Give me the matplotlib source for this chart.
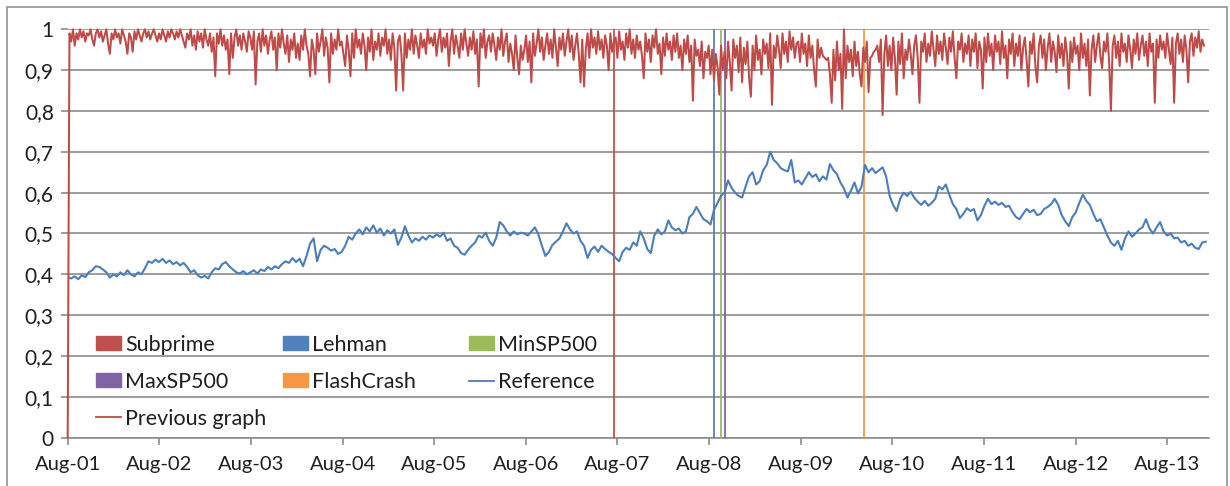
import matplotlib
matplotlib.use('Agg')
import matplotlib.pyplot as plt
import matplotlib.dates as mdates
from matplotlib.patches import Patch, Rectangle
from matplotlib.lines import Line2D
from matplotlib.ticker import FuncFormatter, MultipleLocator
import pandas as pd

plt.rcParams['font.family'] = ['Lato', 'DejaVu Sans']

# ---------------- data ----------------
# "Reference" series, sampled every 14 days from 1 Aug 2001
reference_start = '2001-08-01'
reference_step = '14D'
reference = [
    # Aug01-Aug02
    0.392, 0.390, 0.395, 0.388, 0.398, 0.393, 0.405, 0.410, 0.420, 0.418, 0.412, 0.405, 0.392,
    0.400, 0.395, 0.405, 0.398, 0.410, 0.400, 0.395, 0.405, 0.400, 0.415, 0.432, 0.428, 0.436,
    # Aug02-Aug03
    0.430, 0.438, 0.428, 0.434, 0.425, 0.430, 0.422, 0.428, 0.418, 0.405, 0.410, 0.398, 0.392,
    0.396, 0.390, 0.405, 0.415, 0.412, 0.425, 0.430, 0.420, 0.412, 0.405, 0.402, 0.408, 0.400,
    # Aug03-Aug04
    0.405, 0.410, 0.402, 0.412, 0.408, 0.418, 0.412, 0.420, 0.415, 0.425, 0.432, 0.428, 0.440,
    0.430, 0.438, 0.420, 0.445, 0.475, 0.488, 0.432, 0.460, 0.470, 0.465, 0.458, 0.462, 0.450,
    # Aug04-Aug05
    0.455, 0.470, 0.492, 0.485, 0.500, 0.510, 0.498, 0.515, 0.505, 0.520, 0.502, 0.512, 0.495,
    0.508, 0.500, 0.510, 0.472, 0.490, 0.518, 0.495, 0.478, 0.488, 0.482, 0.492, 0.485, 0.495,
    # Aug05-Aug06
    0.490, 0.498, 0.492, 0.502, 0.482, 0.488, 0.470, 0.465, 0.452, 0.448, 0.460, 0.470, 0.478,
    0.495, 0.490, 0.502, 0.482, 0.470, 0.490, 0.528, 0.520, 0.505, 0.495, 0.505, 0.498, 0.502,
    # Aug06-Aug07
    0.500, 0.495, 0.505, 0.515, 0.498, 0.470, 0.445, 0.455, 0.472, 0.480, 0.488, 0.505, 0.525,
    0.510, 0.500, 0.505, 0.482, 0.470, 0.440, 0.460, 0.468, 0.455, 0.470, 0.462, 0.455, 0.450,
    # Aug07-Aug08
    0.440, 0.432, 0.455, 0.465, 0.460, 0.478, 0.470, 0.505, 0.488, 0.462, 0.452, 0.495, 0.510,
    0.498, 0.505, 0.532, 0.515, 0.508, 0.512, 0.500, 0.505, 0.540, 0.548, 0.565, 0.550, 0.535,
    # Aug08-Aug09
    0.530, 0.522, 0.558, 0.575, 0.592, 0.600, 0.630, 0.612, 0.600, 0.592, 0.588, 0.615, 0.640,
    0.650, 0.620, 0.628, 0.655, 0.668, 0.700, 0.680, 0.672, 0.660, 0.655, 0.652, 0.680, 0.625,
    # Aug09-Aug10
    0.630, 0.620, 0.635, 0.650, 0.638, 0.645, 0.628, 0.640, 0.632, 0.670, 0.655, 0.645, 0.625,
    0.610, 0.588, 0.605, 0.625, 0.598, 0.615, 0.668, 0.650, 0.660, 0.648, 0.655, 0.662, 0.640,
    # Aug10-Aug11
    0.592, 0.570, 0.555, 0.585, 0.600, 0.592, 0.602, 0.588, 0.578, 0.570, 0.580, 0.568, 0.575,
    0.585, 0.615, 0.608, 0.620, 0.595, 0.572, 0.560, 0.538, 0.548, 0.562, 0.555, 0.560, 0.532,
    # Aug11-Aug12
    0.545, 0.568, 0.585, 0.572, 0.578, 0.570, 0.575, 0.565, 0.568, 0.552, 0.540, 0.535, 0.548,
    0.560, 0.552, 0.558, 0.545, 0.548, 0.560, 0.565, 0.572, 0.585, 0.570, 0.545, 0.530, 0.518,
    # Aug12-Aug13
    0.540, 0.552, 0.575, 0.595, 0.580, 0.570, 0.548, 0.530, 0.535, 0.515, 0.495, 0.478, 0.470,
    0.482, 0.460, 0.488, 0.505, 0.492, 0.500, 0.510, 0.515, 0.535, 0.512, 0.500, 0.515, 0.528,
    # Aug13-end
    0.505, 0.495, 0.500, 0.488, 0.490, 0.478, 0.482, 0.470, 0.475, 0.465, 0.462, 0.478, 0.480,
]

# "Previous graph" series, sampled weekly from 1 Aug 2001
previous_start = '2001-08-01'
previous_step = '7D'
previous = [
    # Aug01-Aug02
    0.0, 0.99, 0.97, 1.0, 0.96, 0.99, 0.975, 1.0, 0.98, 0.995, 0.97, 0.99, 0.985, 1.0, 0.975, 0.96, 0.99,
    1.0, 0.98, 0.995, 0.97, 0.985, 1.0, 0.965, 0.94, 0.99, 0.975, 1.0, 0.98, 0.99, 0.965, 1.0, 0.985,
    0.97, 0.94, 0.99, 0.98, 0.945, 0.995, 0.975, 1.0, 0.985, 0.97, 0.99, 1.0, 0.98, 0.995, 0.975, 0.99,
    1.0, 0.985, 0.97,
    # Aug02-Aug03
    0.99, 0.975, 1.0, 0.985, 0.97, 0.995, 0.98, 1.0, 0.99, 0.975, 0.995, 0.98, 1.0, 0.985, 0.97, 0.955,
    0.99, 0.975, 1.0, 0.96, 0.985, 0.95, 0.995, 0.97, 0.99, 0.955, 1.0, 0.975, 0.96, 0.99, 0.945, 0.98,
    0.885, 0.99, 0.965, 1.0, 0.96, 0.985, 0.95, 0.975, 0.89, 0.99, 0.93, 0.98, 1.0, 0.96, 0.985, 0.95,
    0.99, 0.97, 0.945, 0.995,
    # Aug03-Aug04
    0.98, 0.95, 0.995, 0.865, 0.97, 0.99, 0.945, 1.0, 0.96, 0.985, 0.94, 0.975, 0.995, 0.95, 0.98, 0.90,
    0.99, 0.955, 1.0, 0.965, 0.94, 0.985, 0.92, 0.975, 0.95, 0.99, 0.93, 0.965, 0.925, 0.985, 0.95, 1.0,
    0.96, 0.94, 0.885, 0.975, 0.95, 0.89, 0.99, 0.945, 0.97, 1.0, 0.935, 0.98, 0.955, 0.87, 0.99, 0.94,
    0.975, 0.95, 1.0, 0.96,
    # Aug04-Aug05
    0.97, 0.94, 0.91, 0.985, 0.95, 0.885, 0.99, 0.93, 1.0, 0.955, 0.975, 0.94, 0.99, 0.96, 0.90, 0.98,
    0.945, 1.0, 0.925, 0.97, 0.95, 0.99, 0.935, 0.98, 0.96, 1.0, 0.94, 0.975, 0.925, 0.99, 0.955, 0.85,
    0.97, 0.985, 0.94, 0.85, 0.99, 0.93, 0.975, 0.95, 1.0, 0.94, 0.985, 0.96, 0.93, 0.99, 0.955, 0.975,
    0.94, 1.0, 0.965, 0.98,
    # Aug05-Aug06
    0.96, 0.99, 0.935, 0.975, 1.0, 0.945, 0.98, 0.955, 0.99, 0.91, 0.97, 1.0, 0.94, 0.985, 0.96, 0.93,
    0.99, 0.95, 1.0, 0.965, 0.935, 0.98, 0.95, 0.995, 0.94, 0.975, 0.86, 0.99, 0.955, 1.0, 0.93, 0.97,
    0.985, 0.945, 0.99, 0.96, 0.925, 0.98, 0.95, 1.0, 0.935, 0.97, 0.99, 0.92, 0.965, 0.94, 0.90, 0.985,
    0.93, 0.89, 0.96, 0.925,
    # Aug06-Aug07
    0.95, 0.985, 0.92, 0.97, 0.87, 0.99, 0.935, 0.965, 1.0, 0.945, 0.98, 0.925, 0.96, 0.99, 0.94, 0.975,
    0.93, 1.0, 0.955, 0.91, 0.98, 0.95, 0.99, 0.935, 0.97, 1.0, 0.945, 0.985, 0.925, 0.96, 0.99, 0.94,
    0.87, 0.975, 0.86, 0.95, 0.99, 0.93, 1.0, 0.955, 0.98, 0.94, 0.995, 0.95, 0.975, 0.93, 0.985, 0.96,
    0.90, 0.99, 0.945, 0.97,
    # Aug07-Aug08
    0.98, 0.93, 0.995, 0.95, 0.97, 0.925, 0.99, 0.955, 1.0, 0.94, 0.975, 0.93, 0.985, 0.95, 0.97, 0.935,
    0.88, 0.99, 0.945, 0.975, 0.92, 0.985, 0.955, 1.0, 0.94, 0.965, 0.89, 0.98, 0.935, 0.99, 0.95, 0.97,
    0.925, 0.985, 0.945, 0.99, 0.93, 0.96, 0.90, 0.975, 0.94, 0.985, 0.92, 0.96, 0.825, 0.975, 0.935,
    0.95, 0.91, 0.97, 0.88, 0.945,
    # Aug08-Aug09
    0.93, 0.96, 0.89, 0.95, 0.875, 0.94, 0.91, 0.84, 0.96, 0.90, 0.945, 0.88, 0.97, 0.92, 0.85, 0.975,
    0.93, 0.96, 0.895, 0.98, 0.87, 0.955, 0.915, 0.97, 0.88, 0.835, 0.96, 0.90, 0.985, 0.925, 0.95, 0.89,
    0.975, 0.94, 0.965, 0.905, 0.99, 0.815, 0.96, 0.93, 0.985, 0.95, 0.905, 0.99, 0.94, 0.97, 0.92,
    0.995, 0.95, 0.98, 0.93, 0.965,
    # Aug09-Aug10
    0.97, 0.92, 0.99, 0.94, 0.965, 0.91, 0.985, 0.93, 0.96, 0.90, 0.86, 0.975, 0.93, 0.955, 0.935, 0.93,
    0.925, 0.93, 0.89, 0.82, 0.95, 0.875, 0.97, 0.90, 0.94, 0.805, 1.0, 0.88, 0.96, 0.92, 0.95, 0.885,
    0.97, 0.91, 0.945, 0.89, 0.86, 0.955, 0.92, 0.97, 0.846, 0.93, 0.935, 0.945, 0.95, 0.96, 0.92,
    0.975, 0.79, 0.94, 0.985, 0.91,
    # Aug10-Aug11
    0.96, 0.90, 0.98, 0.93, 0.84, 0.97, 0.915, 0.99, 0.88, 0.95, 0.925, 0.975, 0.94, 0.89, 0.96, 0.985,
    0.93, 0.82, 0.97, 0.945, 0.99, 0.92, 0.965, 0.935, 0.995, 0.95, 0.91, 0.985, 0.94, 0.97, 0.925, 0.99,
    0.955, 0.915, 0.98, 0.945, 0.995, 0.93, 0.88, 0.97, 0.95, 0.99, 0.92, 0.965, 0.94, 0.985, 0.91,
    0.975, 0.945, 0.99, 0.905, 0.97,
    # Aug11-Aug12
    0.95, 0.855, 0.98, 0.92, 0.99, 0.935, 0.965, 0.90, 0.985, 0.945, 0.97, 0.915, 0.995, 0.93, 0.96,
    0.88, 0.975, 0.94, 0.99, 0.91, 0.965, 0.935, 0.985, 0.90, 0.955, 0.98, 0.925, 0.86, 0.97, 0.94, 0.99,
    0.91, 0.87, 0.96, 0.985, 0.93, 0.975, 0.90, 0.955, 0.99, 0.92, 0.97, 0.945, 0.895, 0.985, 0.93,
    0.965, 0.91, 0.98, 0.94, 0.855, 0.97,
    # Aug12-Aug13
    0.92, 0.98, 0.94, 0.96, 0.90, 0.99, 0.93, 0.965, 0.91, 0.975, 0.838, 0.95, 0.985, 0.92, 0.96, 0.99,
    0.935, 0.905, 0.97, 0.945, 0.99, 0.92, 0.80, 0.96, 0.985, 0.93, 0.97, 0.91, 0.99, 0.945, 0.965, 0.92,
    0.985, 0.95, 0.905, 0.975, 0.94, 0.99, 0.925, 0.96, 0.985, 0.935, 0.97, 0.91, 0.99, 0.945, 0.965,
    0.82, 0.975, 0.93, 0.985, 0.95,
    # Aug13-end
    0.97, 0.93, 0.99, 0.95, 0.915, 0.98, 0.82, 0.965, 0.99, 0.94, 0.975, 0.92, 0.985, 0.95, 0.87, 0.97,
    0.99, 0.935, 0.98, 0.955, 0.995, 0.945, 0.975, 0.96,
]

# Event markers (drawn as full-height bars)
event_names = ['Subprime', 'Lehman', 'MinSP500', 'MaxSP500', 'FlashCrash']
event_dates = ['2007-07-17', '2008-08-20', '2008-09-15', '2008-10-02', '2010-04-09']
event_values = [1, 1, 1, 1, 1]

x_start = '2001-08-01'
x_end = '2014-01-14'
tick_years = list(range(2001, 2014))

# ---------------- style ----------------
C_SUB, C_LEH, C_MIN, C_MAX, C_FLASH = '#C0504D', '#4F81BD', '#9BBB59', '#8064A2', '#F79646'
event_colors = [C_SUB, C_LEH, C_MIN, C_MAX, C_FLASH]
C_REF = '#4A7EBB'
C_PREV = '#BE4B48'
GRID = '#8C8C8C'
TXT = '#1f1f1f'

W, H = 1230, 486
fig = plt.figure(figsize=(W / 100, H / 100), dpi=100)
fig.patch.set_facecolor('white')

# outer chart border
fig.add_artist(Rectangle((7 / W, -0.05), (1227 - 7) / W, 1.05 - 7 / H,
                         transform=fig.transFigure, fill=False,
                         edgecolor='#8A8A8A', linewidth=1.1, zorder=0))

ax = fig.add_axes([67.7 / W, 1 - 437.7 / H, (1209 - 67.7) / W, (437.7 - 29.3) / H])

ref_dates = pd.date_range(reference_start, periods=len(reference), freq=reference_step)
prev_dates = pd.date_range(previous_start, periods=len(previous), freq=previous_step)

for d, v, c in zip(event_dates, event_values, event_colors):
    ax.vlines(pd.Timestamp(d), 0, v, color=c, linewidth=1.3, zorder=2)

ax.plot(ref_dates, reference, color=C_REF, linewidth=1.5, zorder=3)
ax.plot(prev_dates, previous, color=C_PREV, linewidth=1.45, zorder=3, clip_on=False)

ax.set_xlim(pd.Timestamp(x_start), pd.Timestamp(x_end))
ax.set_ylim(0, 1)

ax.yaxis.set_major_locator(MultipleLocator(0.1))
ax.yaxis.set_major_formatter(FuncFormatter(
    lambda v, p: '0' if abs(v) < 1e-9 else ('1' if abs(v - 1) < 1e-9 else f'{v:.1f}'.replace('.', ','))))
ax.set_xticks([pd.Timestamp(f'{y}-08-01') for y in tick_years])
ax.xaxis.set_major_formatter(mdates.DateFormatter('%b-%y'))

ax.grid(axis='y', color=GRID, linewidth=1.2, zorder=0)
ax.set_axisbelow(True)
for s in ['top', 'right', 'left']:
    ax.spines[s].set_visible(False)
ax.spines['bottom'].set_color(GRID)
ax.spines['bottom'].set_linewidth(1.2)
ax.spines['bottom'].set_zorder(1)

ax.tick_params(axis='y', length=5, width=1.2, color=GRID, pad=5, labelsize=15, labelcolor=TXT)
ax.tick_params(axis='x', length=5, width=1.2, color=GRID, pad=8, labelsize=14.5, labelcolor=TXT)

# legend: three columns of equal width
leg_font = 15.5
common = dict(frameon=False, fontsize=leg_font, handlelength=1.15, handleheight=0.62,
              handletextpad=0.22, labelspacing=0.78, borderpad=0, borderaxespad=0,
              loc='upper left', bbox_transform=fig.transFigure)
col1 = [Patch(color=C_SUB, label='Subprime'), Patch(color=C_MAX, label='MaxSP500'),
        Line2D([], [], color=C_PREV, linewidth=1.3, label='Previous graph')]
col2 = [Patch(color=C_LEH, label='Lehman'), Patch(color=C_FLASH, label='FlashCrash')]
col3 = [Patch(color=C_MIN, label='MinSP500'),
        Line2D([], [], color=C_REF, linewidth=1.3, label='Reference')]
top_y = 1 - 335 / H
l1 = ax.legend(handles=col1, bbox_to_anchor=(96 / W, top_y), **common)
ax.add_artist(l1)
l2 = ax.legend(handles=col2, bbox_to_anchor=(283 / W, top_y), **common)
ax.add_artist(l2)
l3 = ax.legend(handles=col3, bbox_to_anchor=(469 / W, top_y), **common)
for lg in (l1, l2, l3):
    for t in lg.get_texts():
        t.set_color(TXT)

fig.savefig('out.png', dpi=100)
